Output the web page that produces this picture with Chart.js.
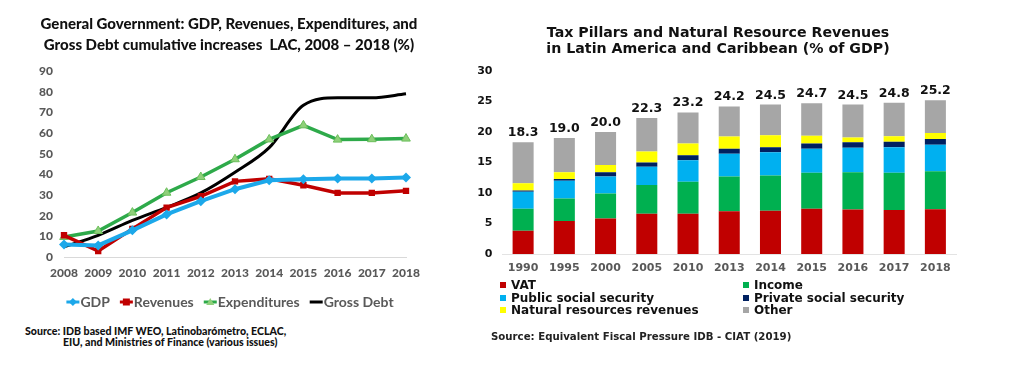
<!DOCTYPE html>
<html>
<head>
<meta charset="utf-8">
<script src="https://cdn.jsdelivr.net/npm/chart.js@4.4.1/dist/chart.umd.min.js"></script>
<style>
  body { margin: 0; background: #fff; width: 1024px; height: 378px; overflow: hidden; position: relative; }
  #leftBox { position: absolute; left: 0; top: 0; width: 430px; height: 320px; }
  #rightBox { position: absolute; left: 470px; top: 0; width: 554px; height: 282px; }
  .ttl { position: absolute; text-align: center; white-space: nowrap; color: #111; }
  #leftTitle { left: 29px; width: 400px; top: 13px; font-family: Lato, sans-serif; font-weight: 900; font-size: 15px; line-height: 21px; }
  #rightTitle { left: 518px; width: 400px; top: 24px; font-family: "DejaVu Sans", sans-serif; font-weight: bold; font-size: 14.2px; line-height: 16.3px; }
  .srcL { position: absolute; font-family: Lato, sans-serif; font-weight: 900; font-size: 10.6px; line-height: 11px; color: #111; white-space: nowrap; }
  .srcR { position: absolute; left: 491px; top: 331px; font-family: "DejaVu Sans", sans-serif; font-weight: bold; font-size: 10.2px; line-height: 11px; color: #222; white-space: nowrap; }
  #rightLegend { position: absolute; left: 500px; top: 279px; font-family: "DejaVu Sans", sans-serif; font-weight: bold; font-size: 12px; color: #111; }
  .lg { position: absolute; white-space: nowrap; line-height: 12px; }
  .lg span.sq { position: absolute; left: 0; top: 3px; width: 6px; height: 6px; }
  .lg span.tx { position: absolute; left: 11px; top: 0; }
</style>
</head>
<body>
<div id="leftBox"><canvas id="leftChart"></canvas></div>
<div id="rightBox"><canvas id="rightChart"></canvas></div>
<div class="ttl" id="leftTitle">General Government: GDP, Revenues, Expenditures, and<br>Gross Debt cumulative increases&nbsp; LAC, 2008 &ndash; 2018 (%)</div>
<div class="ttl" id="rightTitle">Tax Pillars and Natural Resource Revenues<br>in Latin America and Caribbean (% of GDP)</div>
<div class="srcL" style="left:25px; top:326px;">Source: IDB based IMF WEO, Latinobarómetro, ECLAC,</div>
<div class="srcL" style="left:63px; top:337px;">EIU, and Ministries of Finance (various issues)</div>
<div id="rightLegend"></div>
<div class="srcR">Source: Equivalent Fiscal Pressure IDB - CIAT (2019)</div>
<script>
// ---- left chart data
const years = ['2008', '2009', '2010', '2011', '2012', '2013', '2014', '2015', '2016', '2017', '2018'];
const gdp = [6.1, 5.6, 12.9, 20.6, 27.0, 32.8, 37.1, 37.6, 38.0, 38.0, 38.5];
const revenues = [10.5, 2.9, 13.6, 23.9, 29.4, 36.6, 37.8, 34.7, 31.0, 31.0, 32.0];
const expenditures = [9.7, 12.6, 21.5, 31.1, 38.7, 47.3, 56.9, 63.7, 56.8, 57.0, 57.3];
const grossDebt = [4.9, 10.5, 17.7, 24.0, 31.0, 41.0, 52.9, 73.4, 77.0, 77.0, 79.0];

// ---- right chart data
const periods = ['1990', '1995', '2000', '2005', '2010', '2013', '2014', '2015', '2016', '2017', '2018'];
const vat = [3.8, 5.4, 5.8, 6.6, 6.6, 7.0, 7.1, 7.4, 7.3, 7.2, 7.35];
const income = [3.6, 3.7, 4.1, 4.7, 5.25, 5.7, 5.75, 5.9, 6.1, 6.1, 6.2];
const publicSS = [2.8, 2.9, 2.8, 3.0, 3.5, 3.75, 3.85, 3.95, 4.0, 4.2, 4.35];
const privateSS = [0.2, 0.3, 0.7, 0.7, 0.85, 0.8, 0.8, 0.85, 0.9, 0.9, 0.95];
const naturalRes = [1.2, 1.1, 1.2, 1.8, 1.9, 2.0, 1.95, 1.3, 0.8, 0.9, 1.0];
const other = [6.7, 5.6, 5.4, 5.5, 5.1, 4.95, 5.05, 5.3, 5.4, 5.5, 5.35];
const totals = [18.3, 19.0, 20.0, 22.3, 23.2, 24.2, 24.5, 24.7, 24.5, 24.8, 25.2];

Chart.defaults.animation = false;

const grey = '#595959';
const leftFont = 'Lato, sans-serif';
const rightFont = '"DejaVu Sans", sans-serif';

// legend under the line chart: line segment with the marker on it
const lineLegend = {
    id: 'lineLegend',
    afterDraw(chart) {
        const c = chart.ctx;
        const y = 302;
        c.save();
        c.font = 'bold 14px ' + leftFont;
        c.textBaseline = 'middle';
        const items = chart.data.datasets.map(function (ds) {
            return { ds: ds, w: 14 + c.measureText(ds.label).width };
        });
        let total = 0;
        items.forEach(function (it) { total += it.w; });
        total += 10 * (items.length - 1);
        let x = 230 - total / 2;
        items.forEach(function (it) {
            const ds = it.ds;
            c.strokeStyle = ds.borderColor;
            c.lineWidth = 3;
            c.beginPath();
            c.moveTo(x, y);
            c.lineTo(x + 13, y);
            c.stroke();
            const cx = x + 6.5;
            c.fillStyle = ds.pointBackgroundColor || ds.borderColor;
            c.beginPath();
            if (ds.pointStyle === 'rectRot') {
                c.moveTo(cx, y - 4); c.lineTo(cx + 4, y); c.lineTo(cx, y + 4); c.lineTo(cx - 4, y);
                c.fill();
            } else if (ds.pointStyle === 'rect') {
                c.rect(cx - 3.5, y - 3.5, 7, 7);
                c.fill();
            } else if (ds.pointStyle === 'triangle') {
                c.moveTo(cx, y - 4); c.lineTo(cx + 4, y + 3); c.lineTo(cx - 4, y + 3);
                c.fill();
            }
            c.fillStyle = grey;
            c.textAlign = 'left';
            c.fillText(ds.label, x + 14, y);
            x += it.w + 10;
        });
        c.restore();
    }
};

new Chart(document.getElementById('leftChart'), {
    type: 'line',
    data: {
        labels: years,
        datasets: [{
            label: 'GDP',
            data: gdp,
            borderColor: '#1ca8ea',
            backgroundColor: '#1ca8ea',
            borderWidth: 4,
            pointStyle: 'rectRot',
            pointRadius: 5,
            pointBackgroundColor: '#1ca8ea',
            pointBorderWidth: 0
        }, {
            label: 'Revenues',
            data: revenues,
            borderColor: '#c00000',
            backgroundColor: '#c00000',
            borderWidth: 3.5,
            pointStyle: 'rect',
            pointRadius: 4.5,
            pointBackgroundColor: '#c00000',
            pointBorderWidth: 0
        }, {
            label: 'Expenditures',
            data: expenditures,
            borderColor: '#2eaa4a',
            backgroundColor: '#2eaa4a',
            borderWidth: 3.5,
            pointStyle: 'triangle',
            pointRadius: 5,
            pointBackgroundColor: '#8fd07a',
            pointBorderColor: '#6cbf5c',
            pointBorderWidth: 1
        }, {
            label: 'Gross Debt',
            data: grossDebt,
            borderColor: '#000000',
            backgroundColor: '#000000',
            borderWidth: 3,
            pointRadius: 0,
            cubicInterpolationMode: 'monotone'
        }]
    },
    options: {
        responsive: true,
        maintainAspectRatio: false,
        layout: { padding: { left: 0, right: 24, top: 71, bottom: 35 } },
        plugins: {
            legend: { display: false },
            tooltip: { enabled: false }
        },
        scales: {
            x: {
                grid: { display: false, drawTicks: false },
                border: { display: true, color: '#d9d9d9', width: 1 },
                afterFit: function (s) { s.height = 28; },
                ticks: { color: grey, padding: 9, maxRotation: 0, font: { family: leftFont, size: 12, weight: 900 } }
            },
            y: {
                min: 0,
                max: 90,
                grid: { display: false, drawTicks: false },
                border: { display: false },
                afterFit: function (s) { s.width = 64; },
                ticks: { stepSize: 10, color: grey, padding: 11, font: { family: leftFont, size: 12, weight: 900 } }
            }
        }
    },
    plugins: [lineLegend]
});

// totals written above each stack
const totalLabels = {
    id: 'totalLabels',
    afterDatasetsDraw(chart) {
        const c = chart.ctx;
        const xs = chart.scales.x;
        const ys = chart.scales.y;
        c.save();
        c.font = 'bold 12.5px ' + rightFont;
        c.fillStyle = '#111';
        c.textAlign = 'center';
        c.textBaseline = 'bottom';
        totals.forEach(function (t, i) {
            c.fillText(t.toFixed(1), xs.getPixelForValue(i), ys.getPixelForValue(t) - 3);
        });
        c.restore();
    }
};

const stackSets = [
    { label: 'VAT', data: vat, color: '#c00000' },
    { label: 'Income', data: income, color: '#00b050' },
    { label: 'Public social security', data: publicSS, color: '#00b0f0' },
    { label: 'Private social security', data: privateSS, color: '#002060' },
    { label: 'Natural resources revenues', data: naturalRes, color: '#ffff00' },
    { label: 'Other', data: other, color: '#a6a6a6' }
];

new Chart(document.getElementById('rightChart'), {
    type: 'bar',
    data: {
        labels: periods,
        datasets: stackSets.map(function (s) {
            return { label: s.label, data: s.data, backgroundColor: s.color, borderWidth: 0, barPercentage: 0.51, categoryPercentage: 1 };
        })
    },
    options: {
        responsive: true,
        maintainAspectRatio: false,
        layout: { padding: { left: 0, right: 68, top: 71, bottom: 2 } },
        plugins: {
            legend: { display: false },
            tooltip: { enabled: false }
        },
        scales: {
            x: {
                stacked: true,
                grid: { display: false, drawTicks: false },
                border: { display: true, color: '#e3e3e3', width: 1 },
                afterFit: function (s) { s.height = 26; },
                ticks: { color: grey, padding: 8, maxRotation: 0, font: { family: rightFont, size: 11, weight: 'bold' } }
            },
            y: {
                stacked: true,
                min: 0,
                max: 30,
                grid: { display: false, drawTicks: false },
                border: { display: false },
                afterFit: function (s) { s.width = 32.5; },
                ticks: { stepSize: 5, color: '#111', padding: 10, font: { family: rightFont, size: 11, weight: 'bold' } }
            }
        }
    },
    plugins: [totalLabels]
});

// two-column legend for the stacked bars
const legendBox = document.getElementById('rightLegend');
stackSets.forEach(function (s, i) {
    const d = document.createElement('div');
    d.className = 'lg';
    d.style.left = (i % 2 === 0 ? 0 : 243) + 'px';
    d.style.top = (Math.floor(i / 2) * 12.6) + 'px';
    d.innerHTML = '<span class="sq" style="background:' + s.color + '"></span><span class="tx">' + s.label + '</span>';
    legendBox.appendChild(d);
});
</script>
</body>
</html>
